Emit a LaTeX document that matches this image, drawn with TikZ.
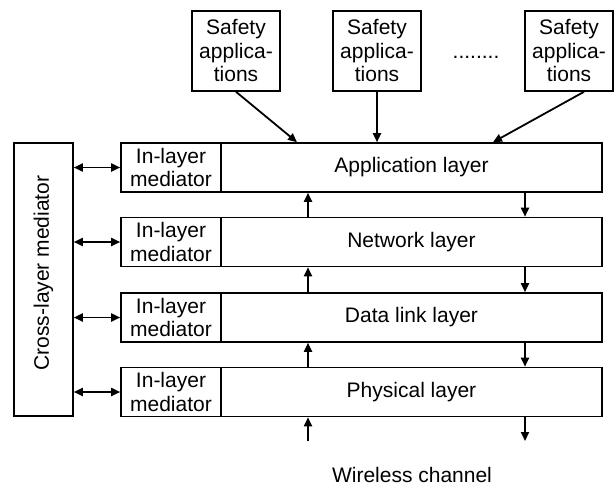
\documentclass[tikz,border=0pt]{standalone}
\usepackage{fontspec}
\setmainfont{Liberation Sans}
\usetikzlibrary{arrows.meta,calc}
\begin{document}
\begin{tikzpicture}[x=1pt,y=-1pt,
  every node/.style={font=\fontsize{21}{23.5}\selectfont, inner sep=0pt, align=center},
  box/.style={draw, line width=1.6pt},
  medbox/.style={box, minimum width=100pt, minimum height=49pt},
  laybox/.style={box, minimum width=381pt, minimum height=49pt},
  appbox/.style={box, minimum width=88pt, minimum height=80pt},
  arr/.style={line width=1.8pt, -{Triangle[length=9pt,width=8pt]}},
  dbl/.style={line width=1.8pt, {Triangle[length=9pt,width=8pt]}-{Triangle[length=9pt,width=8pt]}},
]
\useasboundingbox (0,0) rectangle (615,487);

% safety application boxes
\node[appbox] (s1) at (236,51) {Safety\\applica-\\tions};
\node[appbox] (s2) at (377,51) {Safety\\applica-\\tions};
\node[appbox] (s3) at (569,51) {Safety\\applica-\\tions};
\node[anchor=base] (dots) at (476,59) {........};

% cross-layer mediator
\node[box, minimum width=59pt, minimum height=273pt] (cross) at (43.5,279.5) {};
\node[rotate=90] (crosstext) at (43.5,273) {Cross-layer mediator};

% layers
\node[medbox] (m1) at (171,167.5) {In-layer\\mediator};
\node[laybox] (app) at (411.5,167.5) {Application layer};
\node[medbox] (m2) at (171,242) {In-layer\\mediator};
\node[laybox] (net) at (411.5,242) {Network layer};
\node[medbox] (m3) at (171,317.5) {In-layer\\mediator};
\node[laybox] (dll) at (411.5,317.5) {Data link layer};
\node[medbox] (m4) at (171,392) {In-layer\\mediator};
\node[laybox] (phy) at (411.5,392) {Physical layer};

\node (wl) at (412,475) {Wireless channel};

% helper coordinates
\coordinate (ux) at (308,0);
\coordinate (dx) at (525,0);
\coordinate (t1) at (297,0);
\coordinate (t3) at (493,0);
\coordinate (wu) at (308,441);
\coordinate (wd) at (525,441);

% arrows from applications
\draw[arr] (s1.south) -- (app.north -| t1);
\draw[arr] (s2.south) -- (app.north -| s2.south);
\draw[arr] ($(s3.south)+(15,0)$) -- (app.north -| t3);

% up arrows
\draw[arr] (net.north -| ux) -- (app.south -| ux);
\draw[arr] (dll.north -| ux) -- (net.south -| ux);
\draw[arr] (phy.north -| ux) -- (dll.south -| ux);
\draw[arr] (wu) -- (phy.south -| wu);

% down arrows
\draw[arr] (app.south -| dx) -- (net.north -| dx);
\draw[arr] (net.south -| dx) -- (dll.north -| dx);
\draw[arr] (dll.south -| dx) -- (phy.north -| dx);
\draw[arr] (phy.south -| wd) -- (wd);

% double arrows
\draw[dbl] (cross.east |- m1.west) -- (m1.west);
\draw[dbl] (cross.east |- m2.west) -- (m2.west);
\draw[dbl] (cross.east |- m3.west) -- (m3.west);
\draw[dbl] (cross.east |- m4.west) -- (m4.west);
\end{tikzpicture}
\end{document}
